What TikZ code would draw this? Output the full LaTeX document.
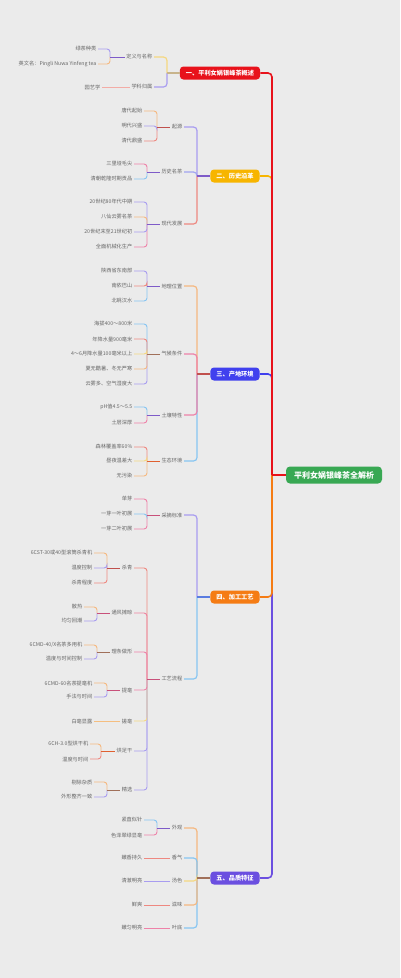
\documentclass[tikz,border=0pt]{standalone}
\usepackage{fontspec}
\newfontfamily\cjk{Noto Sans CJK SC}
\definecolor{bgc}{HTML}{EBEBEB}
\definecolor{txt}{HTML}{666666}
\definecolor{cRoot}{HTML}{38A853}
\definecolor{cOne}{HTML}{E8121B}
\definecolor{cTwo}{HTML}{F7B500}
\definecolor{cThree}{HTML}{4040EE}
\definecolor{cFour}{HTML}{F57C14}
\definecolor{cFive}{HTML}{6B4FE0}
\definecolor{LB}{HTML}{86C5F2}
\definecolor{PK}{HTML}{EE82A8}
\definecolor{OR}{HTML}{F5B880}
\definecolor{PU}{HTML}{A89CF0}
\definecolor{RD}{HTML}{EE8880}
\definecolor{YL}{HTML}{F5D880}
\definecolor{DPU}{HTML}{7E5BC8}
\definecolor{DRD}{HTML}{C0504D}
\definecolor{DBR}{HTML}{A0705A}
\definecolor{DPK}{HTML}{C8507A}
\definecolor{TAN}{HTML}{C8B48C}
\definecolor{DOR}{HTML}{E06030}
\definecolor{DBL}{HTML}{5A7CE0}
\tikzset{
  leaf/.style={font=\cjk\fontsize{5.2}{6}\selectfont, text=txt, inner sep=1.5pt, anchor=east},
  mainbox/.style={font=\cjk\bfseries\fontsize{6.2}{7}\selectfont, text=white, rounded corners=3.5pt, minimum height=13pt, inner xsep=6pt, inner ysep=0pt},
  rootbox/.style={font=\cjk\bfseries\fontsize{8}{9}\selectfont, text=white, fill=cRoot, rounded corners=4pt, minimum height=17pt, inner xsep=8pt, inner ysep=0pt},
  ln/.style={line width=0.9pt, rounded corners=3pt},
  trunk/.style={line width=1.6pt, rounded corners=4pt},
  bln/.style={line width=1.2pt, rounded corners=3.5pt}
}
\begin{document}
\begin{tikzpicture}[x=1pt,y=-1pt]
\fill[bgc] (0,0) rectangle (400,978);
\useasboundingbox (0,0) rectangle (400,978);

% root and main boxes
\node[rootbox] (root) at (334,475) {平利女娲银峰茶全解析};
\node[mainbox, fill=cOne] (b1) at (220,73) {一、平利女娲银峰茶概述};
\node[mainbox, fill=cTwo] (b2) at (235,176) {二、历史沿革};
\node[mainbox, fill=cThree] (b3) at (235,374) {三、产地环境};
\node[mainbox, fill=cFour] (b4) at (235,597) {四、加工工艺};
\node[mainbox, fill=cFive] (b5) at (235,878) {五、品质特征};

\coordinate (T) at (272,0);
\draw[trunk, cTwo] (b2.east) -| (T |- root.west);
\draw[trunk, cThree] (b3.east) -| (T |- root.west);
\draw[trunk, cOne] (b1.east) -| (T |- root.west);
\draw[trunk, cFive] (b5.east) -| (T |- root.west);
\draw[trunk, cFour] (b4.east) -| (T |- root.west);
\draw[trunk, cOne, rounded corners=0pt] (T |- root.west) -- (root.west);

% ---------- Branch 1
\node[leaf] (n11) at (154,57) {定义与名称};
\node[leaf] (n12) at (154,87) {学科归属};
\node[leaf] (l111) at (98,49) {绿茶种类};
\node[leaf] (l112) at (98,64) {英文名：Pingli Nuwa Yinfeng tea};
\node[leaf] (l121) at (102,87) {园艺学};
\coordinate (v1) at (167,0);
\coordinate (v11) at (110,0);
\draw[bln, YL] (n11.east) -| (v1 |- b1.west);
\draw[bln, PU] (n12.east) -| (v1 |- b1.west);
\draw[bln, TAN] (v1 |- b1.west) -- (b1.west);
\draw[ln, PU] (l111.east) -| (v11 |- n11.west);
\draw[ln, OR] (l112.east) -| (v11 |- n11.west);
\draw[ln, DPU] (v11 |- n11.west) -- (n11.west);
\draw[ln, RD!70] (l121.east) -- (n12.west);

% ---------- Branch 2
\node[leaf] (n21) at (184,127) {起源};
\node[leaf] (n22) at (184,172) {历史名茶};
\node[leaf] (n23) at (184,224) {现代发展};
\node[leaf] (l211) at (144,111) {唐代起始};
\node[leaf] (l212) at (144,126) {明代兴盛};
\node[leaf] (l213) at (144,141) {清代鼎盛};
\node[leaf] (l221) at (134,164) {三里垭毛尖};
\node[leaf] (l222) at (134,179) {清朝乾隆时期贡品};
\node[leaf] (l231) at (134,202) {20世纪80年代中期};
\node[leaf] (l232) at (134,217) {八仙云雾名茶};
\node[leaf] (l233) at (134,232) {20世纪末至21世纪初};
\node[leaf] (l234) at (134,247) {全面机械化生产};
\coordinate (v2) at (197,0);
\coordinate (v21) at (157,0);
\coordinate (v22) at (147,0);
\draw[bln, PU] (n21.east) -| (v2 |- b2.west);
\draw[bln, RD] (n23.east) -| (v2 |- b2.west);
\draw[bln, PU!80!LB] (n22.east) -| (v2 |- b2.west);
\draw[bln, DPU] (v2 |- b2.west) -- (b2.west);
\draw[ln, OR] (l211.east) -| (v21 |- n21.west);
\draw[ln, RD] (l213.east) -| (v21 |- n21.west);
\draw[ln, PU] (l212.east) -| (v21 |- n21.west);
\draw[ln, DRD] (v21 |- n21.west) -- (n21.west);
\draw[ln, PK] (l221.east) -| (v22 |- n22.west);
\draw[ln, LB] (l222.east) -| (v22 |- n22.west);
\draw[ln, DPU] (v22 |- n22.west) -- (n22.west);
\draw[ln, PU] (l231.east) -| (v22 |- n23.west);
\draw[ln, PK] (l234.east) -| (v22 |- n23.west);
\draw[ln, OR] (l232.east) -| (v22 |- n23.west);
\draw[ln, PU] (l233.east) -| (v22 |- n23.west);
\draw[ln, DPU] (v22 |- n23.west) -- (n23.west);

% ---------- Branch 3
\node[leaf] (n31) at (184,286) {地理位置};
\node[leaf] (n32) at (184,354) {气候条件};
\node[leaf] (n33) at (184,415) {土壤特性};
\node[leaf] (n34) at (184,461) {生态环境};
\node[leaf] (l311) at (134,271) {陕西省东南部};
\node[leaf] (l312) at (134,286) {南依巴山};
\node[leaf] (l313) at (134,301) {北眺汉水};
\node[leaf] (l321) at (134,324) {海拔400～800米};
\node[leaf] (l322) at (134,339) {年降水量900毫米};
\node[leaf] (l323) at (134,354) {4～6月降水量100毫米以上};
\node[leaf] (l324) at (134,369) {夏无酷暑、冬无严寒};
\node[leaf] (l325) at (134,384) {云雾多、空气湿度大};
\node[leaf] (l331) at (134,407) {pH值4.5～5.5};
\node[leaf] (l332) at (134,423) {土层深厚};
\node[leaf] (l341) at (134,447) {森林覆盖率60\%};
\node[leaf] (l342) at (134,461) {昼夜温差大};
\node[leaf] (l343) at (134,476) {无污染};
\coordinate (v3) at (197,0);
\coordinate (v31) at (147,0);
\draw[bln, OR] (n31.east) -| (v3 |- b3.west);
\draw[bln, PK] (n32.east) -| (v3 |- b3.west);
\draw[bln, LB] (n34.east) -| (v3 |- b3.west);
\draw[bln, PK] (n33.east) -| (v3 |- b3.west);
\draw[bln, DRD] (v3 |- b3.west) -- (b3.west);
\draw[ln, PU] (l311.east) -| (v31 |- n31.west);
\draw[ln, LB] (l313.east) -| (v31 |- n31.west);
\draw[ln, RD] (l312.east) -| (v31 |- n31.west);
\draw[ln, DPU] (v31 |- n31.west) -- (n31.west);
\draw[ln, LB] (l321.east) -| (v31 |- n32.west);
\draw[ln, PU] (l325.east) -| (v31 |- n32.west);
\draw[ln, RD] (l322.east) -| (v31 |- n32.west);
\draw[ln, OR] (l324.east) -| (v31 |- n32.west);
\draw[ln, YL] (l323.east) -| (v31 |- n32.west);
\draw[ln, DBR] (v31 |- n32.west) -- (n32.west);
\draw[ln, LB] (l331.east) -| (v31 |- n33.west);
\draw[ln, PK] (l332.east) -| (v31 |- n33.west);
\draw[ln, DPU] (v31 |- n33.west) -- (n33.west);
\draw[ln, RD] (l341.east) -| (v31 |- n34.west);
\draw[ln, OR] (l343.east) -| (v31 |- n34.west);
\draw[ln, YL] (l342.east) -| (v31 |- n34.west);
\draw[ln, DOR] (v31 |- n34.west) -- (n34.west);

% ---------- Branch 4
\node[leaf] (n41) at (184,515) {采摘标准};
\node[leaf] (n42) at (184,679) {工艺流程};
\node[leaf] (l411) at (134,499) {单芽};
\node[leaf] (l412) at (134,514) {一芽一叶初展};
\node[leaf] (l413) at (134,529) {一芽二叶初展};
\node[leaf] (m1) at (134,568) {杀青};
\node[leaf] (m2) at (134,613) {通风摊晾};
\node[leaf] (m3) at (134,652) {理条做形};
\node[leaf] (m4) at (134,690) {提毫};
\node[leaf] (m5) at (134,721) {搓毫};
\node[leaf] (m6) at (134,751) {烘足干};
\node[leaf] (m7) at (134,790) {精选};
\node[leaf] (k11) at (94,553) {6CST-30或40型滚筒杀青机};
\node[leaf] (k12) at (94,568) {温度控制};
\node[leaf] (k13) at (94,583) {杀青程度};
\node[leaf] (k21) at (84,607) {散热};
\node[leaf] (k22) at (84,621) {均匀回潮};
\node[leaf] (k31) at (84,645) {6CMD-40/X名茶多用机};
\node[leaf] (k32) at (84,659) {温度与时间控制};
\node[leaf] (k41) at (94,683) {6CMD-60名茶提毫机};
\node[leaf] (k42) at (94,697) {手法与时间};
\node[leaf] (k51) at (94,721) {白毫显露};
\node[leaf] (k61) at (90,744) {6CH-3.0型烘干机};
\node[leaf] (k62) at (90,759) {温度与时间};
\node[leaf] (k71) at (94,782) {剔除杂质};
\node[leaf] (k72) at (94,797) {外形整齐一致};
\coordinate (v4) at (197,0);
\coordinate (v41) at (147,0);
\coordinate (w1) at (107,0);
\coordinate (w2) at (97,0);
\coordinate (w6) at (101,0);
\draw[bln, LB] (n42.east) -| (v4 |- b4.west);
\draw[bln, PU] (n41.east) -| (v4 |- b4.west);
\draw[bln, DBL] (v4 |- b4.west) -- (b4.west);
\draw[ln, PK] (l411.east) -| (v41 |- n41.west);
\draw[ln, PK] (l413.east) -| (v41 |- n41.west);
\draw[ln, LB] (l412.east) -| (v41 |- n41.west);
\draw[ln, DPK] (v41 |- n41.west) -- (n41.west);
\draw[ln, PU] (m7.east) -| (v41 |- n42.west);
\draw[ln, PU] (m6.east) -| (v41 |- n42.west);
\draw[ln, YL] (m5.east) -| (v41 |- n42.west);
\draw[ln, RD] (m1.east) -| (v41 |- n42.west);
\draw[ln, PK!80!RD] (m2.east) -| (v41 |- n42.west);
\draw[ln, PK] (m3.east) -| (v41 |- n42.west);
\draw[ln, PK] (m4.east) -| (v41 |- n42.west);
\draw[ln, DPK] (v41 |- n42.west) -- (n42.west);
\draw[ln, OR] (k11.east) -| (w1 |- m1.west);
\draw[ln, RD] (k13.east) -| (w1 |- m1.west);
\draw[ln, PU] (k12.east) -| (w1 |- m1.west);
\draw[ln, DRD] (w1 |- m1.west) -- (m1.west);
\draw[ln, OR] (k21.east) -| (w2 |- m2.west);
\draw[ln, PU] (k22.east) -| (w2 |- m2.west);
\draw[ln, DPK] (w2 |- m2.west) -- (m2.west);
\draw[ln, OR] (k31.east) -| (w2 |- m3.west);
\draw[ln, PU] (k32.east) -| (w2 |- m3.west);
\draw[ln, DBR] (w2 |- m3.west) -- (m3.west);
\draw[ln, OR] (k41.east) -| (w1 |- m4.west);
\draw[ln, PU] (k42.east) -| (w1 |- m4.west);
\draw[ln, DPK] (w1 |- m4.west) -- (m4.west);
\draw[ln, OR!80!YL] (k51.east) -- (m5.west);
\draw[ln, OR] (k61.east) -| (w6 |- m6.west);
\draw[ln, RD] (k62.east) -| (w6 |- m6.west);
\draw[ln, DOR] (w6 |- m6.west) -- (m6.west);
\draw[ln, OR] (k71.east) -| (w1 |- m7.west);
\draw[ln, PU] (k72.east) -| (w1 |- m7.west);
\draw[ln, DBR] (w1 |- m7.west) -- (m7.west);

% ---------- Branch 5
\node[leaf] (n51) at (184,828) {外观};
\node[leaf] (n52) at (184,858) {香气};
\node[leaf] (n53) at (184,881) {汤色};
\node[leaf] (n54) at (184,905) {滋味};
\node[leaf] (n55) at (184,928) {叶底};
\node[leaf] (l511) at (144,820) {紧直似针};
\node[leaf] (l512) at (144,835) {色泽翠绿显毫};
\node[leaf] (l521) at (144,858) {嫩香持久};
\node[leaf] (l531) at (144,881) {清澈明亮};
\node[leaf] (l541) at (144,905) {鲜爽};
\node[leaf] (l551) at (144,928) {嫩匀明亮};
\coordinate (v5) at (197,0);
\coordinate (v51) at (157,0);
\draw[bln, OR] (n51.east) -| (v5 |- b5.west);
\draw[bln, LB] (n55.east) -| (v5 |- b5.west);
\draw[bln, LB] (n52.east) -| (v5 |- b5.west);
\draw[bln, OR] (n54.east) -| (v5 |- b5.west);
\draw[bln, YL] (n53.east) -| (v5 |- b5.west);
\draw[bln, DBR] (v5 |- b5.west) -- (b5.west);
\draw[ln, LB] (l511.east) -| (v51 |- n51.west);
\draw[ln, PK] (l512.east) -| (v51 |- n51.west);
\draw[ln, DPU] (v51 |- n51.west) -- (n51.west);
\draw[ln, RD] (l521.east) -- (n52.west);
\draw[ln, PU] (l531.east) -- (n53.west);
\draw[ln, RD] (l541.east) -- (n54.west);
\draw[ln, PK] (l551.east) -- (n55.west);
\end{tikzpicture}
\end{document}
